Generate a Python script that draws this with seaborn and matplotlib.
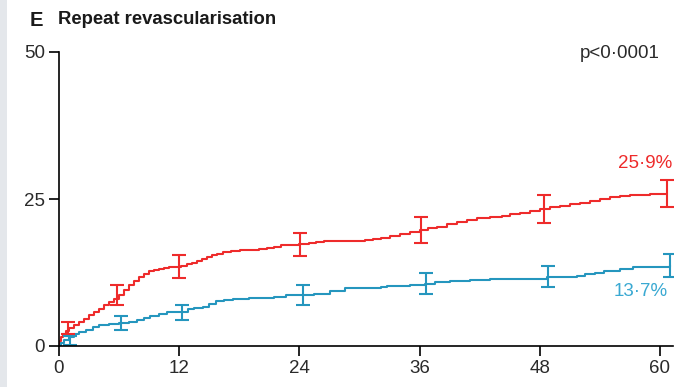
import matplotlib
matplotlib.use("Agg")
import matplotlib.pyplot as plt
from matplotlib.patches import Rectangle
import numpy as np
import pandas as pd
import seaborn as sns

# Cumulative incidence of repeat revascularisation (%), by month
red_months = [0, 0.1, 0.2, 0.4, 0.7, 1.0, 1.5, 2.0, 2.5, 3.0, 3.5, 4.0, 4.5, 5.0, 5.5,
              6.0, 6.5, 7.0, 7.5, 8.0, 8.5, 9.0, 9.5, 10.0, 10.5, 11.0, 11.5, 12.2,
              12.8, 13.3, 13.8, 14.3, 14.8, 15.3, 15.8, 16.4, 17.2, 18.1, 19.0, 20.0,
              20.8, 21.5, 22.2, 23.0, 24.0, 25.0, 25.7, 26.5, 28.0, 30.6, 31.3, 32.1,
              33.0, 34.0, 35.0, 36.0, 36.8, 37.7, 38.7, 39.7, 40.7, 41.7, 43.0, 44.2,
              45.0, 46.0, 47.0, 48.0, 49.0, 50.0, 51.0, 52.0, 53.0, 54.0, 55.0, 56.0,
              57.0, 58.0, 59.0, 59.8, 60.7]
red_values = [0, 0.8, 1.5, 2.0, 2.6, 3.0, 3.5, 4.1, 4.6, 5.2, 5.8, 6.3, 6.9, 7.5, 8.0,
              8.7, 9.5, 10.4, 11.1, 11.8, 12.3, 12.7, 12.9, 13.1, 13.3, 13.4, 13.5, 13.6,
              13.9, 14.2, 14.5, 14.8, 15.1, 15.4, 15.7, 16.0, 16.2, 16.3, 16.4, 16.5,
              16.7, 16.9, 17.1, 17.2, 17.3, 17.5, 17.7, 17.8, 17.9, 18.0, 18.2, 18.4,
              18.7, 19.1, 19.4, 19.7, 20.0, 20.3, 20.7, 21.1, 21.4, 21.7, 21.9, 22.1,
              22.4, 22.7, 23.0, 23.3, 23.6, 23.8, 24.1, 24.3, 24.6, 25.0, 25.3, 25.5,
              25.6, 25.7, 25.8, 25.9, 25.9]

blue_months = [0, 0.2, 0.5, 1.0, 1.5, 2.0, 2.7, 3.4, 4.0, 5.0, 6.0, 7.0, 7.8, 8.5, 9.1,
               10.0, 10.8, 12.0, 12.9, 13.5, 14.4, 15.0, 15.7, 16.5, 17.4, 19.0, 20.4,
               21.5, 22.7, 24.0, 25.5, 27.1, 28.6, 30.0, 32.1, 32.7, 35.0, 36.5, 37.5,
               39.0, 41.0, 43.0, 46.0, 48.7, 51.7, 52.5, 53.5, 54.4, 56.0, 57.3, 59.0, 61.0]
blue_values = [0, 0.5, 1.0, 1.5, 2.0, 2.4, 2.8, 3.2, 3.5, 3.7, 3.9, 4.1, 4.4, 4.8, 5.1,
               5.4, 5.7, 5.8, 6.3, 6.5, 6.6, 7.1, 7.6, 7.9, 8.0, 8.1, 8.2,
               8.4, 8.7, 8.7, 8.9, 9.3, 9.8, 9.8, 10.0, 10.2, 10.3, 10.6, 10.8,
               11.1, 11.2, 11.4, 11.4, 11.7, 11.9, 12.2, 12.5, 12.8, 13.1, 13.4, 13.5, 13.7]

# 95% CI bars at landmark time points
red_bar_x = [0.9, 5.8, 12.0, 24.1, 36.1, 48.4, 60.7]
red_bar_y = [3.0, 8.7, 13.5, 17.3, 19.8, 23.3, 25.9]
red_bar_err = [1.0, 1.7, 1.9, 2.0, 2.2, 2.3, 2.3]
blue_bar_x = [1.1, 6.2, 12.3, 24.4, 36.6, 48.8, 61.0]
blue_bar_y = [0.9, 3.9, 5.7, 8.7, 10.6, 11.8, 13.7]
blue_bar_err = [0.8, 1.2, 1.35, 1.65, 1.8, 1.8, 1.9]

x_ticks = [0, 12, 24, 36, 48, 60]
y_ticks = [0, 25, 50]
red_label = "25·9%"
blue_label = "13·7%"
p_label = "p<0·0001"

RED = "#ee2b2b"
BLUE = "#2596be"
BLUE_TXT = "#3aa9d2"

sns.set_theme(style="ticks")
plt.rcParams["font.family"] = ["Liberation Sans", "DejaVu Sans"]

fig = plt.figure(figsize=(6.92, 3.87), dpi=100)
fig.patch.set_facecolor("white")
fig.patches.append(Rectangle((0, 0), 7 / 692, 1, transform=fig.transFigure,
                             facecolor="#e4e7eb", edgecolor="none", zorder=0))

ax = fig.add_axes([59 / 692, 1 - 346 / 387, (673 - 59) / 692, (346 - 52) / 387])

df = pd.concat([
    pd.DataFrame({"month": red_months, "pct": red_values, "arm": "red"}),
    pd.DataFrame({"month": blue_months, "pct": blue_values, "arm": "blue"}),
])
sns.lineplot(data=df, x="month", y="pct", hue="arm", palette={"red": RED, "blue": BLUE},
             estimator=None, drawstyle="steps-post", linewidth=1.5, legend=False, ax=ax)

ax.errorbar(red_bar_x, red_bar_y, yerr=red_bar_err, fmt="none", ecolor=RED,
            elinewidth=1.5, capsize=4.8, capthick=1.5)
ax.errorbar(blue_bar_x, blue_bar_y, yerr=blue_bar_err, fmt="none", ecolor=BLUE,
            elinewidth=1.5, capsize=4.8, capthick=1.5)

ax.set_xlim(0, 61.3)
ax.set_ylim(0, 50)
ax.set_xticks(x_ticks)
ax.set_yticks(y_ticks)
ax.set_xlabel("")
ax.set_ylabel("")
sns.despine(ax=ax)
for s in ("left", "bottom"):
    ax.spines[s].set_linewidth(1.2)
    ax.spines[s].set_color("black")
ax.tick_params(axis="both", direction="out", length=7, width=1.2, color="black",
               labelsize=13.5, labelcolor="#2a2a2a", pad=3)

ax.text(61.2, 31.1, red_label, color=RED, fontsize=13.5, ha="right", va="center")
ax.text(60.8, 9.2, blue_label, color=BLUE_TXT, fontsize=13.5, ha="right", va="center")
ax.text(60.0, 49.8, p_label, color="#2a2a2a", fontsize=13.5, ha="right", va="center")

fig.text(30 / 692, 1 - 20 / 387, "E", fontsize=14.5, fontweight="bold", color="#1a1a1a",
         ha="left", va="center")
fig.text(58 / 692, 1 - 20 / 387, "Repeat revascularisation", fontsize=13.3,
         fontweight="bold", color="#1a1a1a", ha="left", va="center")

fig.savefig("out.png", dpi=100, facecolor="white")
